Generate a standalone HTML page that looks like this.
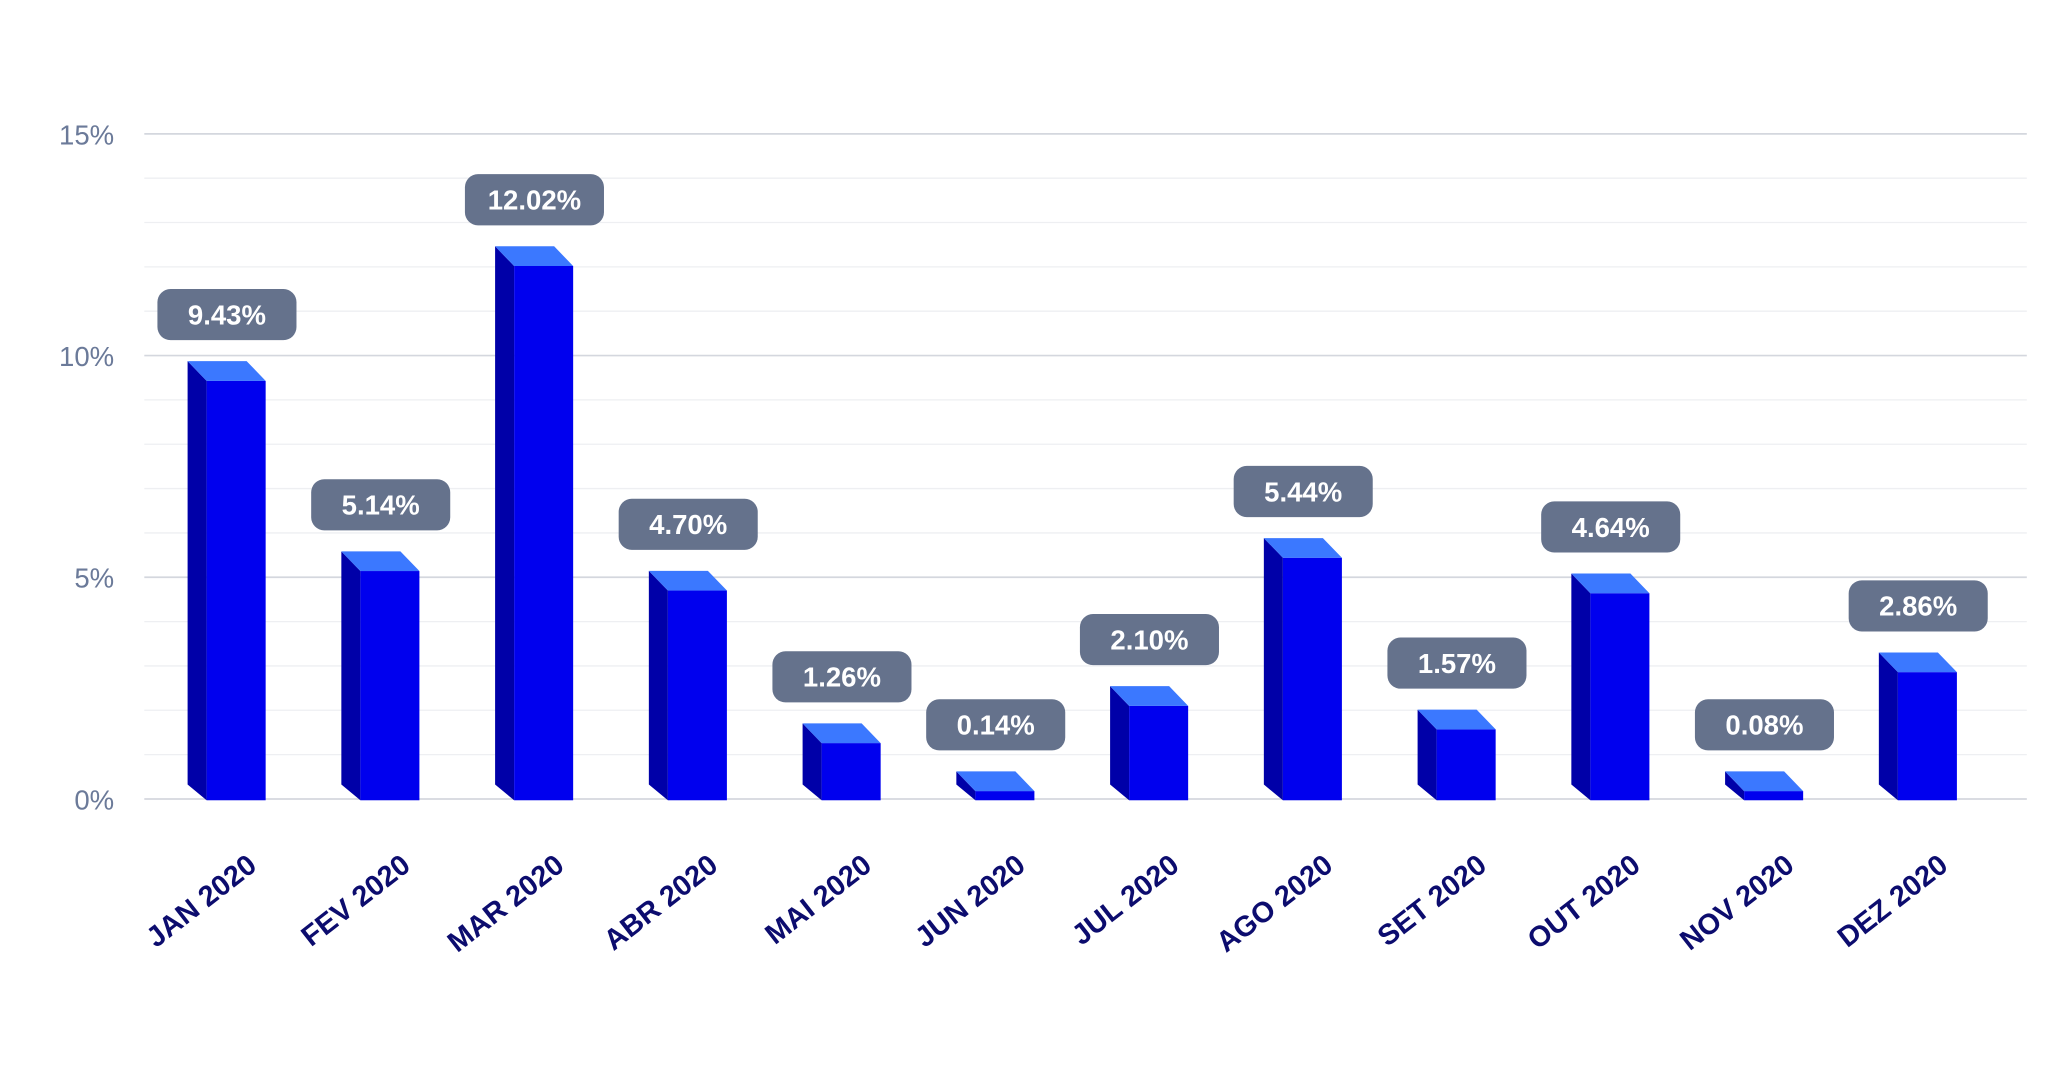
<!DOCTYPE html>
<html><head><meta charset="utf-8"><style>
html,body{margin:0;padding:0;background:#fff;}
svg{display:block;}
text{font-family:"Liberation Sans",sans-serif;}
</style></head><body>
<svg id="chart" width="2057" height="1080" viewBox="0 0 1568 823.2" xmlns="http://www.w3.org/2000/svg">
<g id="grid"></g>
<g id="yaxis"></g>
<g id="bars"></g>
<g id="xaxis"></g>
</svg>
<script>
const categories = ["JAN 2020","FEV 2020","MAR 2020","ABR 2020","MAI 2020","JUN 2020","JUL 2020","AGO 2020","SET 2020","OUT 2020","NOV 2020","DEZ 2020"];
const values = [9.43,5.14,12.02,4.70,1.26,0.14,2.10,5.44,1.57,4.64,0.08,2.86];
const valueLabels = ["9.43%","5.14%","12.02%","4.70%","1.26%","0.14%","2.10%","5.44%","1.57%","4.64%","0.08%","2.86%"];
const yTicks = [0,5,10,15];
const yTickLabels = ["0%","5%","10%","15%"];

const NS="http://www.w3.org/2000/svg";
const y0=609, pxPer=(609-102)/15;
function yScale(v){return y0 - v*pxPer;}
function xScale(i){return 180 + i*117.2;}
function mk(tag,attrs,parent){const e=document.createElementNS(NS,tag);for(const k in attrs)e.setAttribute(k,attrs[k]);parent.appendChild(e);return e;}
const grid=document.getElementById('grid'), yaxis=document.getElementById('yaxis'), bars=document.getElementById('bars'), xaxis=document.getElementById('xaxis');

for(let v=0; v<=15; v++){
  const major = v%5===0;
  const l=mk('line',{x1:110,x2:1545,y1:yScale(v),y2:yScale(v),stroke:major?'#d4d7de':'#eeeff2','stroke-width':major?1.3:1},grid);
  
  
}
yTicks.forEach((t,i)=>{
  const tx=mk('text',{x:87,y:yScale(t)+8,'text-anchor':'end','font-size':21,fill:'#6b7a99'},yaxis);
  tx.textContent=yTickLabels[i];
  
  
});

values.forEach((v,i)=>{
  const c=xScale(i);
  let top=yScale(v); if(y0-top<6) top=y0-6;
  const g=mk('g',{},bars);
  
  
  mk('polygon',{points:`${c-37},${top-15} ${c-22.5},${top} ${c-22.5},${y0+1} ${c-37},${y0-11}`,fill:'#0000a8'},g);
  mk('rect',{x:c-22.5,y:top,width:45,height:y0+1-top,fill:'#0000ee'},g);
  mk('polygon',{points:`${c-37},${top-15} ${c+8},${top-15} ${c+22.5},${top} ${c-22.5},${top}`,fill:'#3b78ff'},g);
  const lb=mk('g',{},bars);
  
  
  const cx=c-7, by=top-31;
  mk('rect',{x:cx-53,y:by-39,width:106,height:39,rx:10,fill:'#65728c'},lb);
  const t=mk('text',{x:cx,y:by-12,'text-anchor':'middle','font-size':21,'font-weight':'bold',fill:'#fff'},lb);
  t.textContent=valueLabels[i];
  const xl=mk('text',{x:0,y:0,'text-anchor':'end','font-size':22,'font-weight':'bold',fill:'#0c0c6e',transform:`translate(${c+17},${662}) rotate(-38)`},xaxis);
  xl.textContent=categories[i];
  
  
});
</script>
</body></html>
